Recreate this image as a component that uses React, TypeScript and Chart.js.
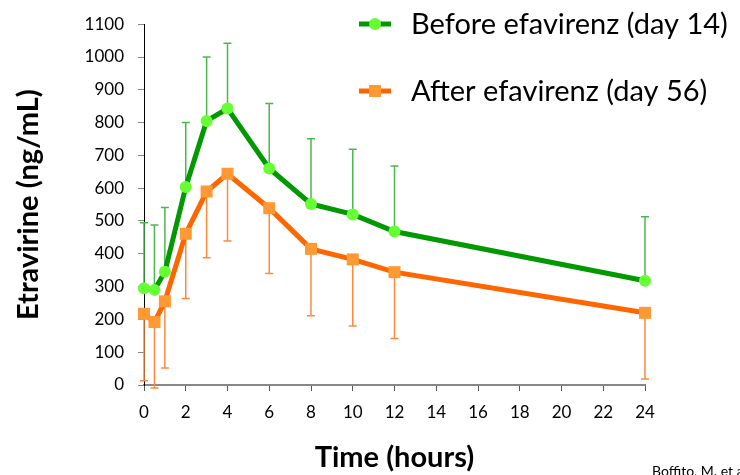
import React, { useEffect, useRef } from "react";
import { Chart, registerables } from "chart.js";

Chart.register(...registerables);

const hours = [0, 0.5, 1, 2, 3, 4, 6, 8, 10, 12, 24];
const beforeMean = [295, 290, 345, 604, 805, 843, 660, 552, 520, 468, 318];
const beforeUpper = [495, 488, 541, 800, 1000, 1042, 858, 751, 719, 668, 513];
const afterMean = [217, 192, 255, 461, 590, 644, 539, 415, 383, 344, 220];
const afterLower = [13, -9, 52, 264, 388, 439, 340, 211, 180, 142, 18];

const xTicksMin = 0;
const xTicksMax = 24;
const xStep = 2;
const yMin = 0;
const yMax = 1100;
const yStep = 100;

const seriesNames = ["Before efavirenz (day 14)", "After efavirenz (day 56)"];
const footnote = "Boffito, M. et al.";

const FONT = "Lato, 'Open Sans', sans-serif";

const errorBarPlugin = {
  id: "errorBars",
  beforeDatasetsDraw(chart: any) {
    const { ctx, scales } = chart;
    const xs = scales.x;
    const ys = scales.y;
    ctx.save();
    const draw = (ends: number[], means: number[], color: string) => {
      ctx.strokeStyle = color;
      ctx.lineWidth = 1.5;
      for (let i = 0; i < hours.length; i++) {
        const px = xs.getPixelForValue(hours[i]);
        const py0 = ys.getPixelForValue(means[i]);
        const py1 = ys.getPixelForValue(ends[i]);
        ctx.beginPath();
        ctx.moveTo(px, py0);
        ctx.lineTo(px, py1);
        ctx.moveTo(px - 4, py1);
        ctx.lineTo(px + 4, py1);
        ctx.stroke();
      }
    };
    draw(beforeUpper, beforeMean, "#4cb84c");
    draw(afterLower, afterMean, "#ff8a3d");
    ctx.restore();
  },
};

const legendPlugin = {
  id: "customLegend",
  afterDraw(chart: any) {
    const { ctx } = chart;
    ctx.save();
    const items = [
      { name: seriesNames[0], line: "#009900", fill: "#66ff33", style: "circle", y: 24 },
      { name: seriesNames[1], line: "#ff6600", fill: "#ff9933", style: "rect", y: 91 },
    ];
    for (const it of items) {
      ctx.strokeStyle = it.line;
      ctx.lineWidth = 5;
      ctx.beginPath();
      ctx.moveTo(359, it.y);
      ctx.lineTo(391, it.y);
      ctx.stroke();
      ctx.fillStyle = it.fill;
      if (it.style === "circle") {
        ctx.beginPath();
        ctx.arc(375, it.y, 6, 0, Math.PI * 2);
        ctx.fill();
      } else {
        ctx.fillRect(369, it.y - 6, 12, 12);
      }
      ctx.fillStyle = "#000";
      ctx.font = `29px ${FONT}`;
      ctx.textBaseline = "middle";
      ctx.textAlign = "left";
      ctx.fillText(it.name, 411, it.y + 1);
    }
    ctx.font = `14px ${FONT}`;
    ctx.fillStyle = "#000";
    ctx.textBaseline = "alphabetic";
    ctx.fillText(footnote, 652, 476);
    ctx.restore();
  },
};

export default function App() {
  const ref = useRef<HTMLCanvasElement>(null);
  useEffect(() => {
    if (!ref.current) return;
    const chart = new Chart(ref.current, {
      type: "line",
      data: {
        datasets: [
          {
            label: seriesNames[0],
            data: hours.map((h, i) => ({ x: h, y: beforeMean[i] })),
            borderColor: "#009900",
            borderWidth: 5,
            pointStyle: "circle",
            pointRadius: 6,
            pointBackgroundColor: "#66ff33",
            pointBorderWidth: 0,
            clip: false,
          },
          {
            label: seriesNames[1],
            data: hours.map((h, i) => ({ x: h, y: afterMean[i] })),
            borderColor: "#ff6600",
            borderWidth: 5,
            pointStyle: "rect",
            pointRadius: 8.5,
            pointBackgroundColor: "#ff9933",
            pointBorderWidth: 0,
            clip: false,
          },
        ],
      },
      options: {
        animation: false,
        responsive: true,
        maintainAspectRatio: false,
        layout: { padding: { left: 0, right: 95, top: 19, bottom: 0 } },
        plugins: { legend: { display: false }, tooltip: { enabled: false } },
        scales: {
          x: {
            type: "linear",
            min: xTicksMin,
            max: xTicksMax,
            ticks: {
              stepSize: xStep,
              color: "#000",
              font: { family: FONT, size: 17 },
              padding: 11,
              maxRotation: 0,
              callback: (v: any) => String(v),
            },
            grid: { display: true, drawOnChartArea: false, drawTicks: true, tickLength: 6, tickColor: "#555" },
            border: { display: true, color: "#888", width: 2 },
            title: {
              display: true,
              text: "Time (hours)",
              color: "#000",
              font: { family: FONT, size: 29, weight: "bold" },
              padding: { top: 0, bottom: 0 },
            },
            afterFit(scale: any) {
              scale.height = 90;
            },
          },
          y: {
            type: "linear",
            min: yMin,
            max: yMax,
            ticks: {
              stepSize: yStep,
              color: "#000",
              font: { family: FONT, size: 17 },
              padding: 14,
              callback: (v: any) => String(v),
            },
            grid: { display: true, drawOnChartArea: false, drawTicks: true, tickLength: 6, tickColor: "#888" },
            border: { display: true, color: "#000", width: 1 },
            title: {
              display: true,
              text: "Etravirine (ng/mL)",
              color: "#000",
              font: { family: FONT, size: 29, weight: "bold" },
              padding: { top: 11, bottom: 0 },
            },
            afterFit(scale: any) {
              scale.width = 144;
            },
          },
        },
      },
      plugins: [errorBarPlugin, legendPlugin],
    });
    return () => chart.destroy();
  }, []);
  return (
    <div style={{ position: "absolute", left: 0, top: 0, width: 740, height: 475 }}>
      <canvas ref={ref} />
    </div>
  );
}
